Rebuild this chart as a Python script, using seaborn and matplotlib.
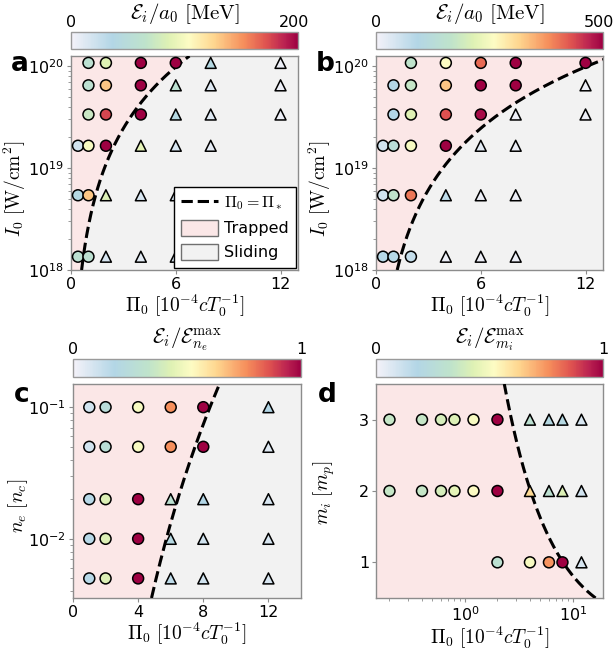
import numpy as np
import pandas as pd
import matplotlib
matplotlib.use("Agg")
import matplotlib.pyplot as plt
import matplotlib.transforms as mtransforms
import seaborn as sns
from matplotlib.colors import LinearSegmentedColormap, Normalize
from matplotlib.cm import ScalarMappable
from matplotlib.patches import Patch
from matplotlib.lines import Line2D

# ---------------- data ----------------
# (a) ion energy per a0 [MeV] vs pressure and laser intensity
a_pi = [1, 2, 4, 6, 8, 12,
        1, 2, 4, 6, 8, 12,
        1, 2, 4, 6, 8, 12,
        0.4, 1, 2, 4, 6, 8,
        0.4, 1, 2, 4, 6,
        0.4, 1, 2, 4, 6]
a_I = ([1.07e20] * 6 + [6.45e19] * 6 + [3.34e19] * 6 + [1.65e19] * 6
       + [5.4e18] * 5 + [1.35e18] * 5)
a_E = [60, 86, 200, 200, 40, 4,
       60, 132, 200, 60, 12, 4,
       72, 176, 200, 40, 12, 4,
       20, 100, 200, 90, 16, 8,
       40, 132, 84, 16, 16,
       60, 60, 16, 10, 16]
a_state = list("CCCCTT" "CCCTTT" "CCCTTT" "CCCTTT" "CCTTT" "CCTTT")

# (b) ion energy per a0 [MeV], second configuration
b_pi = [2, 4, 6, 8, 12,
        1, 2, 4, 6, 8, 12,
        1, 2, 4, 6, 8, 12,
        0.4, 1, 2, 4, 6, 8,
        0.4, 1, 2, 4, 6, 8,
        0.4, 1, 2, 4, 6, 8]
b_I = ([1.07e20] * 5 + [6.45e19] * 6 + [3.34e19] * 6 + [1.65e19] * 6
       + [5.4e18] * 6 + [1.35e18] * 6)
b_E = [165, 260, 410, 500, 500,
       90, 175, 330, 500, 500, 10,
       90, 215, 430, 490, 10, 10,
       50, 130, 250, 500, 25, 10,
       50, 165, 400, 75, 10, 10,
       85, 85, 65, 10, 10, 10]
b_state = list("CCCCC" "CCCCCT" "CCCCTT" "CCCCTT" "CCCTTT" "CCCTTT")

# (c) normalised ion energy vs pressure and electron density
c_pi = [1, 2, 4, 6, 8, 12] * 5
c_n = [0.1] * 6 + [0.05] * 6 + [0.02] * 6 + [0.01] * 6 + [0.005] * 6
c_E = [0.10, 0.25, 0.50, 0.76, 1.00, 0.18,
       0.10, 0.27, 0.50, 0.76, 1.00, 0.06,
       0.17, 0.42, 1.00, 0.30, 0.18, 0.08,
       0.17, 0.42, 1.00, 0.20, 0.10, 0.08,
       0.17, 0.42, 1.00, 0.15, 0.10, 0.08]
c_state = list("CCCCCT" "CCCCCT" "CCCTTT" "CCCTTT" "CCCTTT")

# (d) normalised ion energy vs pressure and ion mass
d_pi = [0.2, 0.4, 0.6, 0.8, 1.2, 2, 4, 6, 8, 12,
        0.2, 0.4, 0.6, 0.8, 1.2, 2, 4, 6, 8, 12,
        2, 4, 6, 8, 12]
d_m = [3] * 10 + [2] * 10 + [1] * 5
d_E = [0.35, 0.35, 0.40, 0.42, 0.50, 1.00, 0.30, 0.20, 0.20, 0.08,
       0.35, 0.35, 0.40, 0.45, 0.52, 1.00, 0.62, 0.30, 0.42, 0.10,
       0.30, 0.50, 0.75, 1.00, 0.08]
d_state = list("CCCCCCTTTT" "CCCCCCTTTT" "CCCCT")

# threshold Pi_* parameters
I_REL = 1.37e18          # W/cm^2 for a0 = 1
PI_STAR_A = 0.71         # Pi_* per unit a0, panel a
PI_STAR_B = 1.42         # Pi_* per unit a0, panel b
PI_STAR_C = 5.73         # Pi_* at n_e = 0.01 n_c
PI_STAR_D = 8.1          # Pi_* for m_i = 1 m_p

# ---------------- style ----------------
sns.set_style("white")
plt.rcParams.update({
    "font.family": ["DejaVu Sans"],
    "mathtext.fontset": "cm",
    "axes.edgecolor": "#8c8c8c",
    "axes.linewidth": 1.0,
    "xtick.color": "#8c8c8c",
    "ytick.color": "#8c8c8c",
    "xtick.labelcolor": "black",
    "ytick.labelcolor": "black",
    "text.color": "black",
    "axes.labelcolor": "black",
    "xtick.bottom": True,
    "ytick.left": True,
})

cmap = LinearSegmentedColormap.from_list("energy", [
    (0.00, "#f4f2f9"),
    (0.18, "#b3d6e6"),
    (0.33, "#bfe3cb"),
    (0.43, "#dff1b4"),
    (0.52, "#fdfcc4"),
    (0.63, "#fed68f"),
    (0.76, "#f68f5c"),
    (0.86, "#df5350"),
    (0.94, "#bb2351"),
    (1.00, "#9e0142"),
])

TRAP = "#fbe7e7"
SLIDE = "#f2f2f2"
TICK_FS = 11.5
LABEL_FS = 14
CBAR_FS = 15

W, H = 616, 652
fig = plt.figure(figsize=(W / 100, H / 100), dpi=100)


def box(l, t, r, b):
    return [l / W, 1 - b / H, (r - l) / W, (b - t) / H]


def scatter(ax, x, y, e, state, vmax):
    df = pd.DataFrame({"x": x, "y": y, "E": e, "state": state})
    sns.scatterplot(data=df, x="x", y="y", hue="E", palette=cmap,
                    hue_norm=Normalize(0, vmax), style="state",
                    markers={"C": "o", "T": "^"}, s=62, edgecolor="black",
                    linewidth=1.1, legend=False, ax=ax, zorder=4, clip_on=False)
    ax.set_xlabel("")
    ax.set_ylabel("")


def colorbar(cax, vmax, label):
    sm = ScalarMappable(norm=Normalize(0, vmax), cmap=cmap)
    cb = fig.colorbar(sm, cax=cax, orientation="horizontal", ticks=[0, vmax])
    cb.ax.set_xticklabels(["0", f"{vmax:g}"])
    cax.xaxis.set_ticks_position("top")
    cax.tick_params(length=0, pad=1.5, labelsize=TICK_FS)
    if vmax > 1:
        shift = mtransforms.ScaledTranslation(-4 / 100, 0, fig.dpi_scale_trans)
        lab = cax.get_xticklabels()[-1]
        lab.set_transform(lab.get_transform() + shift)
    cb.outline.set_edgecolor("#9a9a9a")
    cb.outline.set_linewidth(1.0)
    cax.annotate(label, xy=(0.5, 1), xycoords="axes fraction",
                 xytext=(0, 4.5), textcoords="offset points",
                 ha="center", va="bottom", fontsize=CBAR_FS)


def style_axes(ax, xlabel, ylabel, ylab_xy):
    ax.set_xlabel(xlabel, fontsize=LABEL_FS, labelpad=1)
    ax.set_ylabel(ylabel, fontsize=LABEL_FS)
    ax.yaxis.set_label_coords(*ylab_xy)
    ax.tick_params(which="major", length=3, width=0.8, pad=2, labelsize=TICK_FS)
    ax.tick_params(which="minor", length=2, width=0.6)


xlab = r"$\Pi_0\ [10^{-4}cT_0^{-1}]$"

# ---- panel a / b ----
for key, pi, I, E, st, vmax, coef, l, r in [
        ("a", a_pi, a_I, a_E, a_state, 200, PI_STAR_A, 71, 298),
        ("b", b_pi, b_I, b_E, b_state, 500, PI_STAR_B, 376, 603)]:
    ax = fig.add_axes(box(l, 56, r, 270))
    cax = fig.add_axes(box(l, 32, r, 49))
    ax.set_yscale("log")
    ylo, yhi = 1e18, 1.25e20
    xhi = 13
    Igrid = np.logspace(np.log10(ylo), np.log10(yhi), 300)
    pistar = coef * np.sqrt(Igrid / I_REL)
    ax.fill_betweenx(Igrid, 0, np.minimum(pistar, xhi), color=TRAP, lw=0, zorder=0)
    ax.fill_betweenx(Igrid, np.minimum(pistar, xhi), xhi, color=SLIDE, lw=0, zorder=0)
    ax.plot(pistar, Igrid, ls="--", color="black", lw=2.2, zorder=3)
    scatter(ax, pi, I, E, st, vmax)
    ax.set_xlim(0, xhi)
    ax.set_ylim(ylo, yhi)
    ax.set_xticks([0, 6, 12])
    style_axes(ax, xlab, r"$I_0\ [\mathrm{W/cm^2}]$", (-0.19, 0.378))
    colorbar(cax, vmax, r"$\mathcal{E}_i/a_0\ [\mathrm{MeV}]$")
    fig.text((l - 60) / W, 1 - 71 / H, key, fontsize=19, fontweight="bold",
             ha="left", va="baseline")
    if key == "a":
        handles = [Line2D([], [], ls="--", color="black", lw=2.2),
                   Patch(facecolor=TRAP, edgecolor="#707070", lw=1),
                   Patch(facecolor=SLIDE, edgecolor="#707070", lw=1)]
        leg = ax.legend(handles, [r"$\Pi_0 = \Pi_*$", "Trapped", "Sliding"],
                        loc="lower right", fontsize=11.5, frameon=True,
                        fancybox=False, framealpha=1, edgecolor="black",
                        borderaxespad=0.15, handlelength=2.3, handleheight=1.1,
                        handletextpad=0.35, borderpad=0.45, labelspacing=0.5)
        leg.get_frame().set_linewidth(1.0)
        leg.set_zorder(6)

# ---- panel c ----
ax = fig.add_axes(box(73, 384, 301, 598))
cax = fig.add_axes(box(73, 359, 301, 377))
ax.set_yscale("log")
ylo, yhi, xhi = 0.00355, 0.15, 14
ngrid = np.logspace(np.log10(ylo), np.log10(yhi), 300)
pistar = PI_STAR_C * (ngrid / 0.01) ** (1 / 6)
ax.fill_betweenx(ngrid, 0, pistar, color=TRAP, lw=0, zorder=0)
ax.fill_betweenx(ngrid, pistar, xhi, color=SLIDE, lw=0, zorder=0)
ax.plot(pistar, ngrid, ls="--", color="black", lw=2.2, zorder=3)
scatter(ax, c_pi, c_n, c_E, c_state, 1)
ax.set_xlim(0, xhi)
ax.set_ylim(ylo, yhi)
ax.set_xticks([0, 4, 8, 12])
ax.set_yticks([0.01, 0.1])
style_axes(ax, xlab, r"$n_e\ [n_c]$", (-0.19, 0.43))
colorbar(cax, 1, r"$\mathcal{E}_i/\mathcal{E}_{n_e}^{\max}$")
fig.text(14 / W, 1 - 402 / H, "c", fontsize=19, fontweight="bold",
         ha="left", va="baseline")

# ---- panel d ----
ax = fig.add_axes(box(376, 384, 603, 598))
cax = fig.add_axes(box(376, 359, 603, 377))
ax.set_xscale("log")
xlo, xhi, ylo, yhi = 0.15, 19, 0.5, 3.5
mgrid = np.linspace(ylo, yhi, 300)
pistar = PI_STAR_D / mgrid
ax.fill_betweenx(mgrid, xlo, np.minimum(pistar, xhi), color=TRAP, lw=0, zorder=0)
ax.fill_betweenx(mgrid, np.minimum(pistar, xhi), xhi, color=SLIDE, lw=0, zorder=0)
ax.plot(pistar, mgrid, ls="--", color="black", lw=2.2, zorder=3)
scatter(ax, d_pi, d_m, d_E, d_state, 1)
ax.set_xlim(xlo, xhi)
ax.set_ylim(ylo, yhi)
ax.set_yticks([1, 2, 3])
style_axes(ax, xlab, r"$m_i\ [m_p]$", (-0.17, 0.49))
colorbar(cax, 1, r"$\mathcal{E}_i/\mathcal{E}_{m_i}^{\max}$")
fig.text(318 / W, 1 - 402 / H, "d", fontsize=19, fontweight="bold",
         ha="left", va="baseline")

fig.savefig("out.png", dpi=100)
